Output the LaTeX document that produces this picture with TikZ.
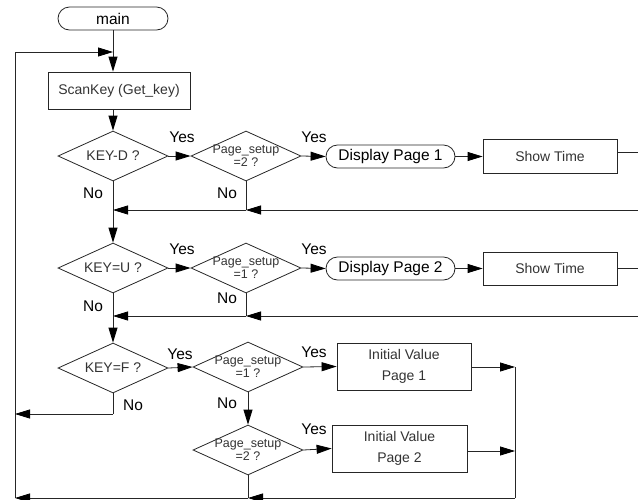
\documentclass[tikz,border=0pt]{standalone}
\usepackage{fontspec}
\setmainfont{Liberation Sans}
\usetikzlibrary{shapes.geometric,shapes.misc,arrows.meta,calc}
\tikzset{
  ln/.style={line width=0.8pt, draw=black!85},
  arr/.style={ln, -{Triangle[length=15pt,width=9pt,color=black,fill=black]}},
  term/.style={draw=black!85, line width=0.8pt, rounded rectangle, inner sep=0pt, font=\fontsize{15.5}{17}\selectfont},
  proc/.style={draw=black!85, line width=0.8pt, rectangle, inner sep=0pt, text=black!80, align=center, font=\fontsize{14}{21}\selectfont},
  dec/.style={draw=black!85, line width=0.8pt, diamond, minimum width=110pt, minimum height=50pt, inner sep=0pt},
  dtxt/.style={inner sep=0pt, align=center, text=black!80, font=\fontsize{12.5}{13}\selectfont},
  ktxt/.style={inner sep=0pt, text=black!80, font=\fontsize{14}{15}\selectfont},
  lbl/.style={inner sep=0pt, font=\fontsize{15.5}{17}\selectfont},
}
\begin{document}
\begin{tikzpicture}[x=1pt,y=-1pt]
\useasboundingbox (0,0) rectangle (638,499);
% nodes
\node[term, minimum width=110pt, minimum height=23pt] (main) at (113,18.5) {main};
\node[proc, minimum width=142pt, minimum height=37pt] (scan) at (119,90.5) {ScanKey (Get\_key)};
\node[dec] (d1) at (113,156) {};
\node[ktxt] (d1t) at (d1) {KEY-D ?};
\node[dec] (d2) at (246,156) {};
\node[dtxt] (d2t) at (d2) {Page\_setup\\=2 ?};
\node[term, minimum width=129pt, minimum height=23pt] (disp1) at (390.5,156.5) {Display Page 1};
\node[proc, minimum width=134pt, minimum height=34pt] (show1) at (550,156.5) {Show Time};

\node[dec] (d3) at (113,268) {};
\node[ktxt] (d3t) at (d3) {KEY=U ?};
\node[dec] (d4) at (246,268) {};
\node[dtxt] (d4t) at (d4) {Page\_setup\\=1 ?};
\node[term, minimum width=129pt, minimum height=23pt] (disp2) at (390.5,268.5) {Display Page 2};
\node[proc, minimum width=134pt, minimum height=33pt] (show2) at (550,268.5) {Show Time};

\node[dec] (d5) at (113,368) {};
\node[ktxt] (d5t) at (d5) {KEY=F ?};
\node[dec] (d6) at (248,367) {};
\node[dtxt] (d6t) at (d6) {Page\_setup\\=1 ?};
\node[proc, minimum width=134pt, minimum height=47pt] (iv1) at (404,366.5) {Initial Value\\Page 1};
\node[dec] (d7) at (248,450) {};
\node[dtxt] (d7t) at (d7) {Page\_setup\\=2 ?};
\node[proc, minimum width=135pt, minimum height=47pt] (iv2) at (399.5,448.5) {Initial Value\\Page 2};

% coordinates
\coordinate (j0) at (113,52);
\coordinate (lt) at (15,52);
\coordinate (lb) at (15,498);
\coordinate (j1) at (113,210);
\coordinate (j2) at (246,210);
\coordinate (r1) at (640,210);
\coordinate (j3) at (113,316);
\coordinate (j4) at (246,316);
\coordinate (r2) at (640,316);
\coordinate (e1) at (640,152);
\coordinate (e2) at (640,268);
\coordinate (fno) at (113,414);
\coordinate (fl) at (15,414);
\coordinate (m1) at (515,367);
\coordinate (m2) at (515,451);
\coordinate (mb) at (515,498);
\coordinate (j6) at (248,498);

% connectors
\draw[ln] (main.south) -- (j0);
\draw[arr] (j0) -- (main.south |- scan.north);
\draw[ln] (lb) -- (lt);
\draw[arr] (lt) -- (j0);
\draw[arr] (d1.north |- scan.south) -- (d1.north);
\draw[arr] (d1.east) -- (d2.west);
\draw[arr] (d2.east) -- (disp1.west);
\draw[arr] (disp1.east) -- (show1.west);
\draw[ln] (show1.east |- e1) -- (e1);
\draw[ln] (d1.south) -- (j1);
\draw[ln] (d2.south) -- (j2);
\draw[arr] (r1) -- (j2);
\draw[arr] (j2) -- (j1);
\draw[arr] (j1) -- (d3.north);

\draw[arr] (d3.east) -- (d4.west);
\draw[arr] (d4.east) -- (disp2.west);
\draw[arr] (disp2.east) -- (show2.west);
\draw[ln] (show2.east |- e2) -- (e2);
\draw[ln] (d3.south) -- (j3);
\draw[ln] (d4.south) -- (j4);
\draw[arr] (r2) -- (j4);
\draw[arr] (j4) -- (j3);
\draw[arr] (j3) -- (d5.north);

\draw[arr] (d5.east) -- (d6.west);
\draw[arr] (d6.east) -- (iv1.west);
\draw[arr] (d6.south) -- (d7.north);
\draw[arr] (d7.east) -- (iv2.west);
\draw[ln] (d5.south) -- (fno);
\draw[arr] (fno) -- (fl);
\draw[arr] (iv1.east |- m1) -- (m1);
\draw[arr] (iv2.east |- m2) -- (m2);
\draw[ln] (m1) -- (mb);
\draw[arr] (mb) -- (j6);
\draw[ln] (d7.south) -- (j6);
\draw[arr] (j6) -- (lb);

% labels
\node[lbl] (y1) at (182,137) {Yes};
\node[lbl] (y2) at (314,137) {Yes};
\node[lbl] (y3) at (182,249) {Yes};
\node[lbl] (y4) at (314,249) {Yes};
\node[lbl] (y5) at (180,354) {Yes};
\node[lbl] (y6) at (314,352) {Yes};
\node[lbl] (y7) at (314,429) {Yes};
\node[lbl] (n1) at (93,193) {No};
\node[lbl] (n2) at (227,193) {No};
\node[lbl] (n3) at (93,306) {No};
\node[lbl] (n4) at (227,298) {No};
\node[lbl] (n5) at (133,405) {No};
\node[lbl] (n6) at (227,403) {No};
\end{tikzpicture}
\end{document}
